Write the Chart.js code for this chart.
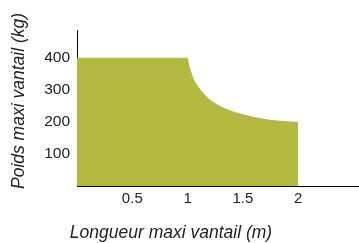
<!DOCTYPE html>
<html>
<head>
<meta charset="utf-8">
<script src="https://cdn.jsdelivr.net/npm/chart.js@4"></script>
<style>
  html, body { margin: 0; padding: 0; background: #fff; }
  #wrap { width: 359px; height: 243px; position: relative; }
</style>
</head>
<body>
<div id="wrap"><canvas id="limits"></canvas></div>
<script>
// longueur (m) / poids (kg)
const lengths = [0, 1, 1.014, 1.032, 1.06, 1.098, 1.143, 1.204, 1.279, 1.355, 1.475, 1.626, 1.747, 1.867, 2];
const weights = [400, 400, 378, 357, 331, 310, 290, 269, 253, 240, 226, 214, 207, 203, 200];
const xTicks = [0.5, 1, 1.5, 2];
const yTicks = [100, 200, 300, 400];
const xTitle = 'Longueur maxi vantail (m)';
const yTitle = 'Poids maxi vantail (kg)';

const ctx = document.getElementById('limits').getContext('2d');
const fontFam = "'Liberation Sans', Arial, sans-serif";

// axis titles sit off-centre in the original, so draw them by hand
const axisTitles = {
  id: 'axisTitles',
  afterDraw(chart) {
    const c = chart.ctx;
    c.save();
    c.fillStyle = '#222';
    c.font = 'italic 17.5px ' + fontFam;
    c.textAlign = 'center';
    c.textBaseline = 'middle';
    c.fillText(xTitle, 171, 233);
    c.translate(19, 101);
    c.rotate(-Math.PI / 2);
    c.fillText(yTitle, 0, 0);
    c.restore();
  }
};

const limitsChart = new Chart(ctx, {
  type: 'line',
  data: {
    datasets: [{
      data: lengths.map((x, i) => ({ x: x, y: weights[i] })),
      borderWidth: 0,
      borderColor: 'rgba(0,0,0,0)',
      backgroundColor: '#b4ba3f',
      fill: 'origin',
      pointRadius: 0,
      cubicInterpolationMode: 'monotone'
    }]
  },
  options: {
    responsive: true,
    maintainAspectRatio: false,
    animation: false,
    layout: { padding: { top: 30, right: 0, left: 0, bottom: 0 } },
    scales: {
      x: {
        type: 'linear',
        min: 0,
        max: 2.55,
        grid: { display: false, drawTicks: false },
        border: { display: true, color: '#000', width: 1 },
        afterBuildTicks: s => { s.ticks = xTicks.map(v => ({ value: v })); },
        afterFit: s => { s.height = 57; },
        ticks: {
          color: '#222',
          padding: 4,
          maxRotation: 0,
          font: { family: fontFam, size: 15 },
          callback: v => String(v)
        }
      },
      y: {
        min: 0,
        max: 487,
        grid: { display: false, drawTicks: false },
        border: { display: true, color: '#000', width: 1 },
        afterBuildTicks: s => { s.ticks = yTicks.map(v => ({ value: v })); },
        afterFit: s => { s.width = 77; },
        ticks: {
          color: '#222',
          padding: 7,
          font: { family: fontFam, size: 15.5 },
          callback: v => String(v)
        }
      }
    },
    plugins: {
      legend: { display: false },
      tooltip: { enabled: false }
    }
  },
  plugins: [axisTitles]
});
</script>
</body>
</html>
